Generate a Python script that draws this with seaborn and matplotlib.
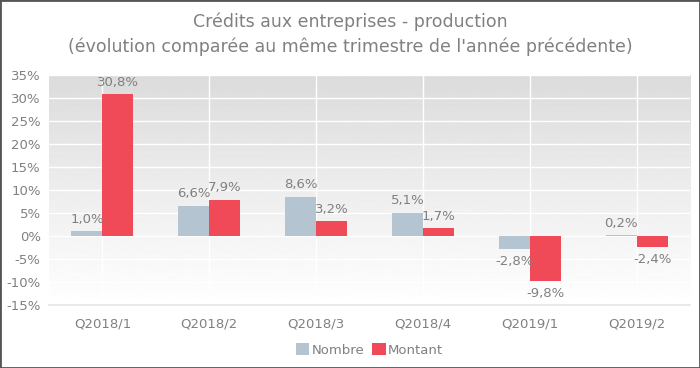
import numpy as np
import pandas as pd
import seaborn as sns
import matplotlib.pyplot as plt
from matplotlib.patches import Rectangle

trimestres = ['Q2018/1', 'Q2018/2', 'Q2018/3', 'Q2018/4', 'Q2019/1', 'Q2019/2']
nombre = [1.0, 6.6, 8.6, 5.1, -2.8, 0.2]
montant = [30.8, 7.9, 3.2, 1.7, -9.8, -2.4]
series = ['Nombre', 'Montant']
couleurs = ['#b5c4d1', '#f04a58']
yticks = [-15, -10, -5, 0, 5, 10, 15, 20, 25, 30, 35]

df = pd.DataFrame({
    'trimestre': trimestres * 2,
    'valeur': nombre + montant,
    'serie': ['Nombre'] * len(nombre) + ['Montant'] * len(montant),
})

sns.set_theme(style='white')
plt.rcParams['font.family'] = ['DejaVu Sans']
txt = '#808080'

fig = plt.figure(figsize=(7, 3.68), dpi=100)
ax = fig.add_axes([0.07, 0.171, 0.916, 0.625])

# fond en dégradé : blanc en bas, gris en haut
grad = np.linspace(1.0, 0.86, 256).reshape(-1, 1)
ax.imshow(grad, extent=[-0.5, 5.5, -15, 35], origin='lower', aspect='auto',
          cmap='gray', vmin=0, vmax=1, zorder=0)

sns.barplot(data=df, x='trimestre', y='valeur', hue='serie',
            palette=couleurs, width=0.58, saturation=1, ax=ax,
            edgecolor='none', zorder=3, legend=True)

ax.set_xlim(-0.5, 5.5)
ax.set_ylim(-15, 35)
ax.set_yticks(yticks)
ax.set_yticklabels([f'{v}%' for v in yticks])
ax.grid(True, color='white', linewidth=1, zorder=1)
ax.set_axisbelow(True)
for s in ['top', 'right', 'left']:
    ax.spines[s].set_visible(False)
ax.spines['bottom'].set_color('#e6e6e6')
ax.set_xlabel('')
ax.set_ylabel('')
ax.tick_params(axis='both', colors=txt, labelsize=9.5, length=0, pad=6)
ax.tick_params(axis='x', pad=9)

for cont in ax.containers:
    labels = [f'{v:.1f}%'.replace('.', ',') for v in cont.datavalues]
    ax.bar_label(cont, labels=labels, padding=4, color=txt, fontsize=9.5)

ax.legend(loc='center', bbox_to_anchor=(0.5, -0.196), ncol=2,
          frameon=False, fontsize=9.5, labelcolor=txt, handlelength=1,
          handleheight=1, handletextpad=0.2, columnspacing=0.6)

fig.suptitle("Crédits aux entreprises - production\n(évolution comparée au même trimestre de l'année précédente)",
             y=0.965, fontsize=12.5, color=txt, linespacing=1.45)

fig.patches.append(Rectangle((0, 0), 1, 1, transform=fig.transFigure,
                             fill=False, edgecolor='#555555', linewidth=2))

fig.savefig('out.png', dpi=100)
